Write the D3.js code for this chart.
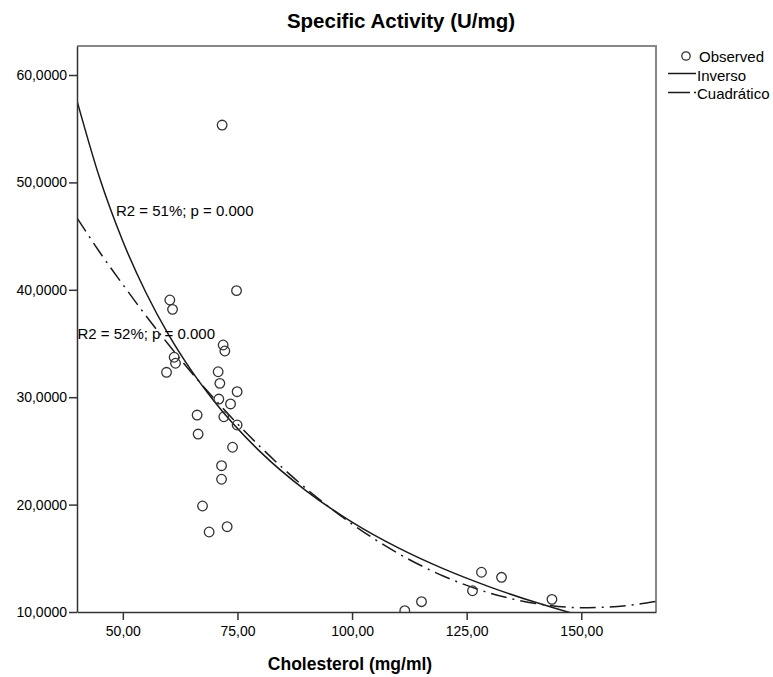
<!DOCTYPE html>
<html>
<head>
<meta charset="utf-8">
<script src="https://cdn.jsdelivr.net/npm/d3@7"></script>
<style>
  html, body { margin: 0; padding: 0; background: #fff; }
  svg { display: block; }
  text { font-family: "Liberation Sans", Arial, sans-serif; fill: #000; }
</style>
</head>
<body>
<div id="chart"></div>
<script>
// ---------- DATA ----------
const chartTitle = "Specific Activity (U/mg)";
const xTitle = "Cholesterol (mg/ml)";

// Observed points (cholesterol, specific activity)
const obsX = [71.66, 60.25, 60.84, 74.80, 59.53, 61.19, 61.49, 71.88, 72.25, 70.79,
              71.16, 74.93, 70.94, 73.49, 66.20, 72.03, 74.93, 66.42, 73.93, 71.53,
              71.53, 67.38, 72.75, 68.82, 111.5, 115.15, 126.27, 128.23, 132.6, 143.6];
const obsY = [55.34, 39.05, 38.18, 39.92, 32.32, 33.72, 33.16, 34.86, 34.30, 32.37,
              31.29, 30.51, 29.83, 29.37, 28.34, 28.18, 27.41, 26.57, 25.34, 23.62,
              22.36, 19.87, 17.94, 17.45, 10.12, 10.96, 11.98, 13.70, 13.23, 11.18];

// Fitted curves
const fitX        = [40, 45, 50, 55, 60, 65, 70, 80, 90, 100, 110, 120, 130, 140, 150, 160, 166.3];
const inversoY    = [57.6, 50.33, 44.52, 39.77, 35.80, 32.45, 29.58, 24.91, 21.28, 18.37, 15.99, 14.01, 12.34, 10.90, 9.65, 8.56, 7.95];
const cuadraticoY = [46.7, 43.47, 40.49, 37.61, 34.88, 32.28, 29.83, 25.37, 21.49, 18.19, 15.47, 13.33, 11.77, 10.80, 10.40, 10.60, 10.98];

const xTicks = [50, 75, 100, 125, 150];
const xTickLabels = ["50,00", "75,00", "100,00", "125,00", "150,00"];
const yTicks = [10, 20, 30, 40, 50, 60];
const yTickLabels = ["10,0000", "20,0000", "30,0000", "40,0000", "50,0000", "60,0000"];

const annotations = [
  { text: "R2 = 51%; p = 0.000", x: 48.5, y: 46.85 },
  { text: "R2 = 52%; p = 0.000", x: 40.1, y: 35.4 }
];
const legendItems = ["Observed", "Inverso", "Cuadrático"];

// ---------- LAYOUT ----------
const W = 773, H = 677;
const plot = { left: 77, right: 656, top: 46, bottom: 612 };

const svg = d3.select("#chart").append("svg")
  .attr("width", W).attr("height", H);

const x = d3.scaleLinear().domain([40, 166.3]).range([plot.left, plot.right]);
const y = d3.scaleLinear().domain([10, 62.7]).range([plot.bottom, plot.top]);

svg.append("defs").append("clipPath").attr("id", "clip")
  .append("rect")
  .attr("x", plot.left).attr("y", plot.top)
  .attr("width", plot.right - plot.left).attr("height", plot.bottom - plot.top);

// frame top & right
svg.append("path")
  .attr("d", `M${plot.left},${plot.top}H${plot.right}V${plot.bottom}`)
  .attr("fill", "none").attr("stroke", "#888").attr("stroke-width", 2);

const g = svg.append("g").attr("clip-path", "url(#clip)");

// curves
const line = d3.line().x(d => x(d[0])).y(d => y(d[1])).curve(d3.curveMonotoneX);
g.append("path")
  .datum(fitX.map((v, i) => [v, inversoY[i]]))
  .attr("d", line).attr("fill", "none").attr("stroke", "#1a1a1a").attr("stroke-width", 1.5);
g.append("path")
  .datum(fitX.map((v, i) => [v, cuadraticoY[i]]))
  .attr("d", line).attr("fill", "none").attr("stroke", "#1a1a1a").attr("stroke-width", 1.5)
  .attr("stroke-dasharray", "16,6,2,6");

// points
g.selectAll("circle.obs").data(obsX.map((v, i) => [v, obsY[i]])).enter()
  .append("circle").attr("class", "obs")
  .attr("cx", d => x(d[0])).attr("cy", d => y(d[1])).attr("r", 4.8)
  .attr("fill", "none").attr("stroke", "#333").attr("stroke-width", 1.3);

// axes
const xAxis = d3.axisBottom(x).tickValues(xTicks)
  .tickFormat((d, i) => xTickLabels[i]).tickSize(8).tickSizeOuter(0).tickPadding(6);
const gx = svg.append("g").attr("transform", `translate(0,${plot.bottom})`).call(xAxis);
gx.select(".domain").attr("stroke", "#333").attr("stroke-width", 1.5);
gx.selectAll(".tick line").attr("stroke", "#333").attr("stroke-width", 1.5);
gx.selectAll(".tick text").attr("font-size", 14).attr("font-family", "Liberation Sans, Arial, sans-serif").attr("fill", "#000");

const yAxis = d3.axisLeft(y).tickValues(yTicks)
  .tickFormat((d, i) => yTickLabels[i]).tickSize(8).tickSizeOuter(0).tickPadding(2);
const gy = svg.append("g").attr("transform", `translate(${plot.left},0)`).call(yAxis);
gy.select(".domain").attr("stroke", "#333").attr("stroke-width", 1.5);
gy.selectAll(".tick line").attr("stroke", "#333").attr("stroke-width", 1.5);
gy.selectAll(".tick text").attr("font-size", 14).attr("font-family", "Liberation Sans, Arial, sans-serif").attr("fill", "#000");

// annotations
svg.selectAll("text.ann").data(annotations).enter().append("text")
  .attr("class", "ann")
  .attr("x", d => x(d.x)).attr("y", d => y(d.y))
  .attr("font-size", 15).text(d => d.text);

// titles
svg.append("text").attr("x", 401).attr("y", 28).attr("text-anchor", "middle")
  .attr("font-size", 20.5).attr("font-weight", "bold").text(chartTitle);
svg.append("text").attr("x", 350).attr("y", 670).attr("text-anchor", "middle")
  .attr("font-size", 17.5).attr("font-weight", "bold").text(xTitle);

// legend
const lg = svg.append("g");
lg.append("circle").attr("cx", 686).attr("cy", 56).attr("r", 4.2)
  .attr("fill", "none").attr("stroke", "#333").attr("stroke-width", 1.3);
lg.append("line").attr("x1", 668).attr("x2", 696).attr("y1", 73.5).attr("y2", 73.5)
  .attr("stroke", "#1a1a1a").attr("stroke-width", 1.5);
lg.append("line").attr("x1", 668).attr("x2", 697).attr("y1", 92.5).attr("y2", 92.5)
  .attr("stroke", "#1a1a1a").attr("stroke-width", 1.5).attr("stroke-dasharray", "22,4,2,10");
lg.selectAll("text.leg").data(legendItems).enter().append("text")
  .attr("class", "leg")
  .attr("x", (d, i) => i === 0 ? 699 : 697)
  .attr("y", (d, i) => 62 + i * 18.5)
  .attr("font-size", 15).text(d => d);
</script>
</body>
</html>
